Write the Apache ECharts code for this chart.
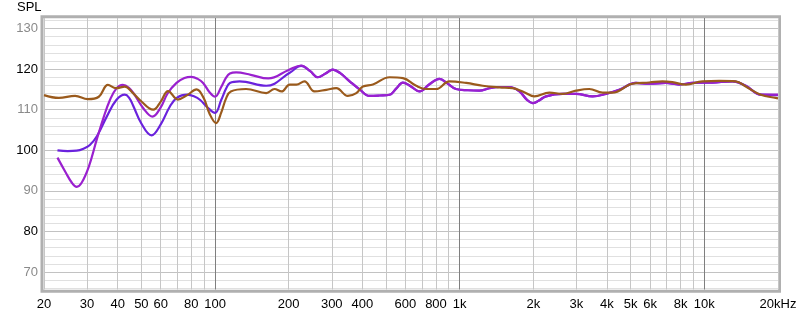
<!DOCTYPE html>
<html><head><meta charset="utf-8">
<script src="https://cdn.jsdelivr.net/npm/echarts@6/dist/echarts.min.js"></script>
<style>html,body{margin:0;padding:0;background:#fff}#c{width:800px;height:315px}</style>
</head><body><div id="c"></div>
<script>
// ---- data ----
const gridFreqs = [20,30,40,50,60,70,80,90,100,200,300,400,500,600,700,800,900,1000,2000,3000,4000,5000,6000,7000,8000,9000,10000,20000];
const decadeFreqs = [100,1000,10000];
const labelFreqs = [20,30,40,50,60,80,100,200,300,400,600,800,1000,2000,3000,4000,5000,6000,8000,10000,20000];
const labelTexts = ['20','30','40','50','60','80','100','200','300','400','600','800','1k','2k','3k','4k','5k','6k','8k','10k','20kHz'];
const yGrid = [66,68,70,72,74,76,78,80,82,84,86,88,90,92,94,96,98,100,102,104,106,108,110,112,114,116,118,120,122,124,126,128,130,132];
const yLabels = [70,80,90,100,110,120,130];

const purple = [[22.7,98.2],[24.5,94.6],[26,92.0],[27.2,91.0],[28.5,92.0],[30.5,96.0],[32.8,102.5],[35,108.0],[37.2,112.4],[39.5,115.2],[42,116.1],[44.5,115.4],[46.5,114.0],[51,110.3],[55.5,108.3],[60,110.6],[64,114.0],[69.6,116.6],[75,117.8],[80,118.1],[85,117.6],[89.4,116.6],[95,114.3],[100,113.2],[106,115.6],[111,117.9],[115,118.9],[122,119.2],[140,118.6],[165,117.7],[200,119.8],[225,120.9],[245,119.5],[263,118.0],[283,118.9],[303,119.9],[325,119.0],[355,117.0],[390,115.0],[428,113.4],[470,113.5],[517,113.7],[550,115.2],[586,116.7],[630,115.8],[685,114.5],[750,116.2],[827,117.6],[890,116.5],[967,115.1],[1080,114.8],[1204,114.7],[1322,115.3],[1453,115.6],[1596,115.6],[1754,114.5],[1880,112.5],[1987,111.6],[2100,112.2],[2254,113.3],[2635,113.9],[2988,113.9],[3494,113.3],[3962,113.9],[4487,114.9],[5252,116.6],[5950,116.4],[6960,116.6],[7888,116.2],[8938,116.6],[10790,116.7],[13020,117.0],[14767,115.9],[17004,113.7],[20000,113.7]];

const violet = [[22.7,100.0],[25,99.8],[27.2,99.9],[29,100.4],[30.8,101.3],[33,103.6],[36.1,108.3],[39.5,112.4],[42.8,113.7],[44.5,113.0],[46.3,111.0],[50,106.6],[55,103.7],[60,106.4],[65.4,110.8],[70,113.0],[77,113.7],[82,113.3],[87,112.4],[93,110.6],[100,109.2],[106,112.4],[111,115.2],[115,116.6],[126,117.0],[162,115.9],[202,119.1],[225,120.8],[245,119.5],[263,118.0],[283,118.9],[303,119.9],[325,119.0],[355,117.0],[390,115.0],[428,113.4],[470,113.5],[517,113.7],[550,115.2],[586,116.7],[630,115.8],[685,114.5],[750,116.2],[827,117.6],[890,116.5],[967,115.1],[1080,114.8],[1204,114.7],[1322,115.3],[1453,115.6],[1596,115.6],[1754,114.5],[1880,112.5],[1987,111.6],[2100,112.2],[2254,113.3],[2635,113.9],[2988,113.9],[3494,113.3],[3962,113.9],[4487,114.9],[5252,116.6],[5950,116.4],[6960,116.6],[7888,116.2],[8938,116.6],[10790,116.7],[13020,117.0],[14767,115.9],[17004,113.7],[20000,113.6]];

const brown = [[20,113.6],[23,112.9],[26.8,113.4],[30.2,112.6],[33.5,113.2],[36.5,116.1],[39.4,115.3],[42.8,115.7],[46,114.2],[49.3,112.4],[55.9,110.0],[60,112.0],[64.3,114.6],[70.5,112.5],[77,113.6],[84,115.0],[90,112.8],[95,109.0],[101,106.7],[106,109.3],[111,112.8],[116,114.5],[134,115.1],[162,114.1],[175,115.1],[187,114.5],[202,116.2],[215,116.2],[232,117.0],[255,114.5],[285,114.9],[313,115.3],[349,113.4],[378,114.1],[402,115.7],[442,116.2],[517,118.0],[586,117.8],[664,115.9],[730,115.1],[802,115.1],[908,117.0],[1063,116.6],[1242,115.9],[1453,115.5],[1646,115.3],[1809,114.5],[2019,113.3],[2325,114.2],[2635,113.9],[2988,114.7],[3386,115.1],[3838,114.2],[4214,114.2],[5085,116.4],[5950,116.7],[6743,117.0],[7405,116.8],[8403,116.2],[9817,117.0],[11487,117.1],[13440,117.0],[14767,115.7],[17004,113.7],[19572,112.9],[20000,112.8]];

// ---- chart ----
const L = Math.log10;
const toXY = arr => arr.map(p => [L(p[0]), p[1]]);
const labelLogs = labelFreqs.map(L);
const G = {left: 44, right: 22, top: 18, bottom: 25.5};
const chart = echarts.init(document.getElementById('c'), null, {renderer: 'canvas'});
const font = 'Liberation Sans, Arial, sans-serif';
const lineSeries = (name, data, color) => ({
  name, type: 'line', data: toXY(data), smooth: 0.4, showSymbol: false,
  lineStyle: {color, width: 2.2}, itemStyle: {color}, silent: true
});
chart.setOption({
  animation: false,
  title: {text: 'SPL', left: 17, top: 1, padding: 0, textStyle: {fontSize: 13, fontWeight: 'normal', color: '#000', fontFamily: font}},
  grid: Object.assign({show: false}, G),
  graphic: [{
    type: 'rect', z: -1,
    shape: {x: G.left - 2, y: G.top - 1.3, width: 800 - G.left - G.right + 3.5, height: 315 - G.top - G.bottom + 3},
    style: {fill: 'none', stroke: '#b0b0b0', lineWidth: 3}
  }],
  xAxis: {
    type: 'value', min: L(20), max: L(20000),
    axisLine: {show: false},
    axisTick: {show: false, customValues: gridFreqs.map(L)},
    splitLine: {show: true, lineStyle: {width: 1, color: gridFreqs.map(f => decadeFreqs.includes(f) ? '#7f7f7f' : '#c6c6c6')}},
    axisLabel: {
      customValues: labelLogs, margin: 8, fontSize: 13, color: '#000', fontFamily: font,
      formatter: v => {
        let best = 0;
        labelLogs.forEach((lv, i) => { if (Math.abs(lv - v) < Math.abs(labelLogs[best] - v)) best = i; });
        return labelTexts[best];
      }
    }
  },
  yAxis: {
    type: 'value', min: 65.7, max: 132.6,
    axisLine: {show: false},
    axisTick: {show: false, customValues: yGrid},
    splitLine: {show: true, lineStyle: {width: 1, color: yGrid.map(v => v % 10 === 0 ? '#c2c2c2' : '#e0e0e0')}},
    axisLabel: {
      customValues: yLabels, margin: 6, fontSize: 13, fontFamily: font,
      formatter: v => (v % 20 === 0 ? '{k|' : '{g|') + v + '}',
      rich: {k: {color: '#000', fontSize: 13, fontFamily: font}, g: {color: '#8a8a8a', fontSize: 13, fontFamily: font}}
    }
  },
  series: [
    lineSeries('violet', violet, '#6a22dd'),
    lineSeries('purple', purple, '#9a20cf'),
    lineSeries('brown', brown, '#9a5a1c')
  ]
});
</script>
</body></html>
